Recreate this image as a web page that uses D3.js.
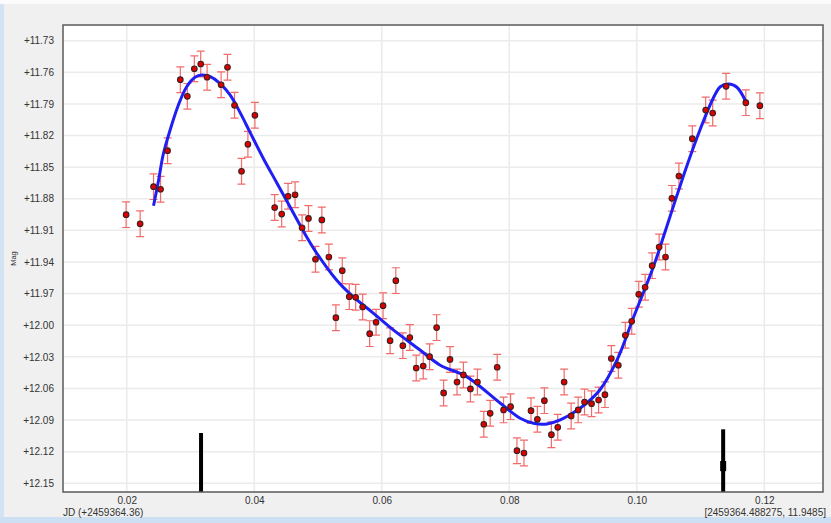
<!DOCTYPE html>
<html>
<head>
<meta charset="utf-8">
<script src="https://cdn.jsdelivr.net/npm/d3@7/dist/d3.min.js"></script>
<style>
  html, body { margin: 0; padding: 0; background: #f0f0f0; }
  svg { display: block; }
  text { font-family: "Liberation Sans", Arial, sans-serif; }
</style>
</head>
<body>
<svg id="chart" width="831" height="523"></svg>
<script>
// Observation times (JD offset from 2459364.36) and magnitudes
const jd = [0.0199, 0.0221, 0.0242, 0.0253, 0.0264, 0.0284, 0.0295, 0.0306, 0.0316, 0.0326,
  0.0348, 0.0358, 0.0369, 0.0380, 0.0390, 0.0401, 0.0432, 0.0443, 0.0453, 0.0464,
  0.0475, 0.0485, 0.0496, 0.0506, 0.0517, 0.0528, 0.0538, 0.0549, 0.0559, 0.0570,
  0.0581, 0.0591, 0.0602, 0.0613, 0.0622, 0.0633, 0.0644, 0.0654, 0.0665, 0.0675,
  0.0686, 0.0697, 0.0707, 0.0718, 0.0728, 0.0739, 0.0750, 0.0760, 0.0770, 0.0781,
  0.0791, 0.0802, 0.0812, 0.0823, 0.0834, 0.0844, 0.0855, 0.0866, 0.0876, 0.0886,
  0.0897, 0.0908, 0.0918, 0.0929, 0.0940, 0.0950, 0.0960, 0.0971, 0.0982, 0.0992,
  0.1003, 0.1013, 0.1024, 0.1035, 0.1045, 0.1055, 0.1066, 0.1087, 0.1108, 0.1119,
  0.1140, 0.1171, 0.1193];
const mag = [11.8951, 11.9037, 11.8685, 11.8710, 11.8344, 11.7670, 11.7828, 11.7566, 11.7521, 11.7647,
  11.7718, 11.7552, 11.7913, 11.8539, 11.8283, 11.8008, 11.8883, 11.8945, 11.8776, 11.8762,
  11.9075, 11.8987, 11.9374, 11.9001, 11.9353, 11.9929, 11.9483, 11.9729, 11.9735, 11.9827,
  12.0080, 11.9972, 11.9815, 12.0147, 11.9577, 12.0194, 12.0117, 12.0406, 12.0387, 12.0299,
  12.0023, 12.0643, 12.0325, 12.0539, 12.0472, 12.0605, 12.0539, 12.0940, 12.0836, 12.0399,
  12.0804, 12.0773, 12.1191, 12.1213, 12.0811, 12.0893, 12.0716, 12.1039, 12.0969, 12.0539,
  12.0861, 12.0804, 12.0729, 12.0745, 12.0710, 12.0659, 12.0316, 12.0380, 12.0096, 11.9963,
  11.9707, 11.9640, 11.9435, 11.9258, 11.9353, 11.8796, 11.8584, 11.8230, 11.7958, 11.7986,
  11.7733, 11.7888, 11.7917];
const magErr = 0.0122;

// Fitted light-curve model
const fitJd = [0.0242, 0.0250, 0.0257, 0.0268, 0.0281, 0.0294, 0.0307, 0.0318, 0.0331, 0.0346,
  0.0362, 0.0378, 0.0393, 0.0414, 0.0435, 0.0456, 0.0482, 0.0498, 0.0529, 0.0555,
  0.0587, 0.0618, 0.0660, 0.0691, 0.0733, 0.0786, 0.0817, 0.0838, 0.0859, 0.0880,
  0.0911, 0.0942, 0.0969, 0.0995, 0.1026, 0.1052, 0.1078, 0.1099, 0.1120, 0.1131,
  0.1144, 0.1157, 0.1171];
const fitMag = [11.8866, 11.8622, 11.8385, 11.8147, 11.7910, 11.7737, 11.7647, 11.7625, 11.7642, 11.7704,
  11.7815, 11.7985, 11.8165, 11.8415, 11.8645, 11.8875, 11.9160, 11.9317, 11.9571, 11.9729,
  11.9887, 12.0045, 12.0235, 12.0377, 12.0488, 12.0741, 12.0883, 12.0931, 12.0937, 12.0899,
  12.0788, 12.0615, 12.0330, 11.9922, 11.9445, 11.8970, 11.8496, 11.8147, 11.7844, 11.7737,
  11.7711, 11.7742, 11.7879];

// Extremum markers: time, top of bar, and optional highlighted span
const markJd = [0.03165, 0.11354];
const markTop = [12.1023, 12.0988];
const markSpan = [null, [12.1289, 12.1385]];

// Axis ticks
const magTicks = [11.73, 11.76, 11.79, 11.82, 11.85, 11.88, 11.91, 11.94, 11.97, 12.00, 12.03, 12.06, 12.09, 12.12, 12.15];
const jdTicks = [0.02, 0.04, 0.06, 0.08, 0.10, 0.12];

const svg = d3.select("#chart");
const W = 831, H = 523;
const plot = { left: 63, top: 25, right: 823, bottom: 492 };

// Window chrome
svg.append("rect").attr("x", 0).attr("y", 0).attr("width", W).attr("height", H).attr("fill", "#f0f0f0");
svg.append("rect").attr("x", 0).attr("y", 0).attr("width", W).attr("height", 4).attr("fill", "#fbfbfb");
svg.append("rect").attr("x", 0).attr("y", 4).attr("width", 4).attr("height", H).attr("fill", "#d4e3f4");
svg.append("rect").attr("x", 0).attr("y", 517).attr("width", W).attr("height", 6).attr("fill", "#cddff2");

const x = d3.scaleLinear().domain([0.0100, 0.1292]).range([plot.left, plot.right]);
const y = d3.scaleLinear().domain([11.7151, 12.1583]).range([plot.top, plot.bottom]);

// Plot area
svg.append("rect")
  .attr("x", plot.left).attr("y", plot.top)
  .attr("width", plot.right - plot.left).attr("height", plot.bottom - plot.top)
  .attr("fill", "#ffffff");

const grid = svg.append("g").attr("stroke", "#ebebeb").attr("stroke-width", 1.5);
grid.selectAll("line.h").data(magTicks).join("line")
  .attr("x1", plot.left).attr("x2", plot.right)
  .attr("y1", d => y(d)).attr("y2", d => y(d));
grid.selectAll("line.v").data(jdTicks).join("line")
  .attr("y1", plot.top).attr("y2", plot.bottom)
  .attr("x1", d => x(d)).attr("x2", d => x(d));

// Axes
const yAxis = svg.append("g")
  .attr("transform", `translate(${plot.left - 6},0)`)
  .call(d3.axisLeft(y).tickValues(magTicks).tickSize(0).tickFormat(d => "+" + d.toFixed(2)));
yAxis.select(".domain").remove();
yAxis.selectAll("text").attr("font-size", 10).attr("fill", "#333").attr("font-family", "Liberation Sans, Arial, sans-serif");

const xAxis = svg.append("g")
  .attr("transform", `translate(0,${plot.bottom + 2})`)
  .call(d3.axisBottom(x).tickValues(jdTicks).tickSize(0).tickFormat(d => d.toFixed(2)));
xAxis.select(".domain").remove();
xAxis.selectAll("text").attr("font-size", 10).attr("fill", "#333").attr("font-family", "Liberation Sans, Arial, sans-serif");

svg.append("text").attr("x", plot.left).attr("y", 516)
  .attr("font-size", 10).attr("fill", "#333").text("JD (+2459364.36)");
svg.append("text").attr("x", 826).attr("y", 516).attr("text-anchor", "end")
  .attr("font-size", 10).attr("fill", "#333").text("[2459364.488275, 11.9485]");
svg.append("text")
  .attr("transform", `translate(16,${(plot.top + plot.bottom) / 2}) rotate(-90)`)
  .attr("text-anchor", "middle").attr("font-size", 7.5).attr("fill", "#333").text("Mag");

const clip = svg.append("clipPath").attr("id", "plotclip").append("rect")
  .attr("x", plot.left).attr("y", plot.top)
  .attr("width", plot.right - plot.left).attr("height", plot.bottom - plot.top);
const g = svg.append("g").attr("clip-path", "url(#plotclip)");

// Error bars
const points = jd.map((t, i) => ({ t, m: mag[i] }));
const eb = g.append("g").attr("stroke", "#f26b6b").attr("stroke-width", 1.2).attr("fill", "none");
eb.selectAll("path").data(points).join("path")
  .attr("d", d => {
    const cx = x(d.t), y0 = y(d.m - magErr), y1 = y(d.m + magErr);
    return `M${cx - 4},${y0}H${cx + 4}M${cx},${y0}V${y1}M${cx - 4},${y1}H${cx + 4}`;
  });

// Fitted curve
const fit = fitJd.map((t, i) => [x(t), y(fitMag[i])]);
g.append("path").datum(fit)
  .attr("d", d3.line().curve(d3.curveCatmullRom.alpha(0.5)))
  .attr("fill", "none").attr("stroke", "#1f1ff5").attr("stroke-width", 3)
  .attr("stroke-linecap", "butt");

// Data points
g.append("g").selectAll("circle").data(points).join("circle")
  .attr("cx", d => x(d.t)).attr("cy", d => y(d.m)).attr("r", 2.8)
  .attr("fill", "#dd0000").attr("stroke", "#3a2020").attr("stroke-width", 1.1);

// Extremum markers
markJd.forEach((t, i) => {
  g.append("line")
    .attr("x1", x(t)).attr("x2", x(t))
    .attr("y1", y(markTop[i])).attr("y2", plot.bottom)
    .attr("stroke", "#000").attr("stroke-width", 4);
  if (markSpan[i]) {
    g.append("rect")
      .attr("x", x(t) - 3).attr("width", 6)
      .attr("y", y(markSpan[i][0])).attr("height", y(markSpan[i][1]) - y(markSpan[i][0]))
      .attr("fill", "#000");
  }
});

// Frame
svg.append("rect")
  .attr("x", plot.left).attr("y", plot.top)
  .attr("width", plot.right - plot.left).attr("height", plot.bottom - plot.top)
  .attr("fill", "none").attr("stroke", "#5a5a5a").attr("stroke-width", 1.5);
</script>
</body>
</html>
